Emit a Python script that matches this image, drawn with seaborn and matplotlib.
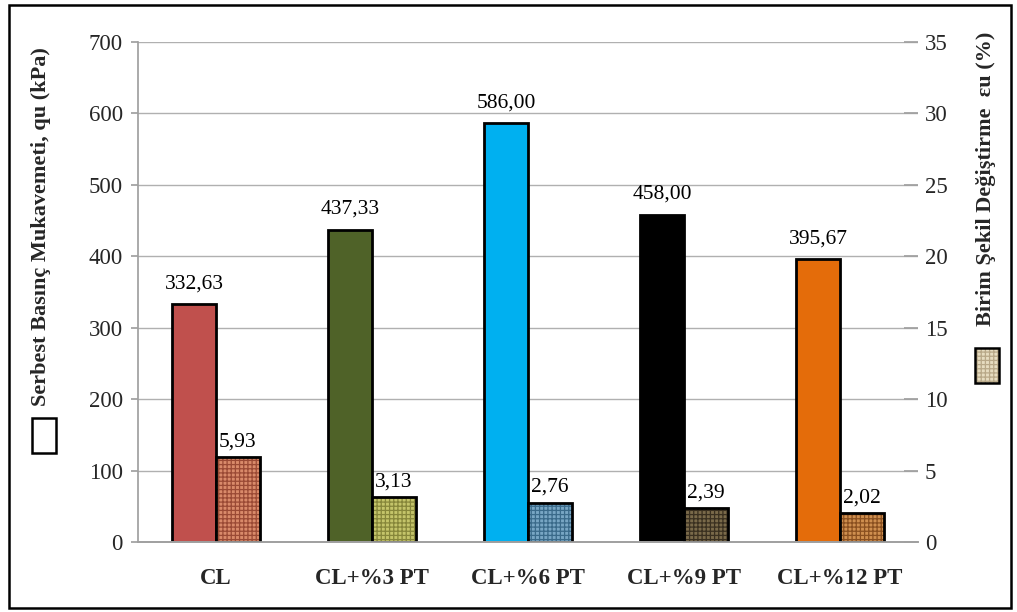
import numpy as np
import pandas as pd
import matplotlib
matplotlib.use("Agg")
import matplotlib.pyplot as plt
from matplotlib.patches import Rectangle
from matplotlib.colors import to_rgba
import seaborn as sns

categories = ["CL", "CL+%3 PT", "CL+%6 PT", "CL+%9 PT", "CL+%12 PT"]
qu_values = [332.63, 437.33, 586.00, 458.00, 395.67]
eu_values = [5.93, 3.13, 2.76, 2.39, 2.02]
qu_colors = ["#c0504d", "#4f6228", "#00b0f0", "#000000", "#e46c0a"]
eu_fill = ["#d98a6a", "#c4c46a", "#78a6c4", "#7a6a4a", "#cf8f4f"]
eu_hatch = ["#9a4a35", "#86863a", "#3a6a8a", "#3a3020", "#8a5020"]
left_ticks = [0, 100, 200, 300, 400, 500, 600, 700]
right_ticks = [0, 5, 10, 15, 20, 25, 30, 35]

sns.set_theme(style="white")
plt.rcParams["font.family"] = ["Liberation Serif", "DejaVu Serif"]
plt.rcParams["hatch.linewidth"] = 0.9

fig = plt.figure(figsize=(10.17, 6.12), dpi=100)
ax1 = fig.add_axes([0.1357, 0.1144, 0.767, 0.817])
ax2 = ax1.twinx()

df_qu = pd.DataFrame({"cat": categories, "val": qu_values, "series": "qu"})
df_eu = pd.DataFrame({"cat": categories, "val": eu_values, "series": "eu"})

sns.barplot(data=df_qu, x="cat", y="val", hue="series", hue_order=["qu", "eu"],
            order=categories, width=0.56, dodge=True, ax=ax1, legend=False,
            saturation=1, err_kws={"linewidth": 0})
sns.barplot(data=df_eu, x="cat", y="val", hue="series", hue_order=["qu", "eu"],
            order=categories, width=0.56, dodge=True, ax=ax2, legend=False,
            saturation=1, err_kws={"linewidth": 0})

qu_bars = [p for c in ax1.containers for p in c]
eu_bars = [p for c in ax2.containers for p in c]

for p, col in zip(qu_bars, qu_colors):
    p.set_facecolor(col)
    p.set_edgecolor("black")
    p.set_linewidth(2)

for p, col, hc in zip(eu_bars, eu_fill, eu_hatch):
    p.set_facecolor(col)
    p.set_edgecolor("black")
    p.set_linewidth(2)
    p.set_hatch("++++")
    if hasattr(p, "set_hatchcolor"):
        p.set_hatchcolor(hc)
    else:
        p._hatch_color = to_rgba(hc)

ax1.bar_label(ax1.containers[0], labels=[f"{v:.2f}".replace(".", ",") for v in qu_values],
              padding=8, fontsize=15.5, color="black")
ax2.bar_label(ax2.containers[-1], labels=[f"{v:.2f}".replace(".", ",") for v in eu_values],
              padding=4, fontsize=15.5, color="black")

ax1.set_ylim(0, 700)
ax1.set_yticks(left_ticks)
ax2.set_ylim(0, 35)
ax2.set_yticks(right_ticks)

ax1.set_xlabel("")
ax1.set_ylabel("")
ax2.set_xlabel("")
ax2.set_ylabel("")

ax1.grid(axis="y", color="#b0b0b0", linewidth=1)
ax1.set_axisbelow(True)
ax2.grid(False)

for ax in (ax1, ax2):
    ax.spines["top"].set_visible(False)
    ax.spines["right"].set_visible(False)
    ax.spines["left"].set_visible(False)
    ax.spines["bottom"].set_color("#a0a0a0")
ax1.spines["left"].set_visible(True)
ax1.spines["left"].set_color("#a0a0a0")

ax1.tick_params(axis="y", left=True, length=5, color="#a0a0a0", labelsize=16.5, pad=6)
ax2.tick_params(axis="y", right=True, length=10, color="#a0a0a0", labelsize=16.5, pad=5,
                direction="in")
ax1.tick_params(axis="x", bottom=False, labelsize=16.5, pad=13)
for lbl in ax1.get_xticklabels():
    lbl.set_fontweight("bold")

fig.text(0.040, 0.630, "Serbest Basınç Mukavemeti, qu (kPa)", rotation=90,
         ha="center", va="center", fontsize=16, fontweight="bold")
fig.add_artist(Rectangle((0.031, 0.259), 0.024, 0.058, transform=fig.transFigure,
                         facecolor="white", edgecolor="black", linewidth=1.8))

fig.text(0.970, 0.708, "Birim Şekil Değiştirme  εu (%)", rotation=90,
         ha="center", va="center", fontsize=16, fontweight="bold")
leg2 = Rectangle((0.959, 0.374), 0.023, 0.058, transform=fig.transFigure,
                 facecolor="#e6dcc0", edgecolor="black", linewidth=1.8, hatch="++++")
if hasattr(leg2, "set_hatchcolor"):
    leg2.set_hatchcolor("#b8a888")
else:
    leg2._hatch_color = to_rgba("#b8a888")
fig.add_artist(leg2)

fig.add_artist(Rectangle((0.009, 0.007), 0.985, 0.985, transform=fig.transFigure,
                         facecolor="none", edgecolor="black", linewidth=1.8))

fig.savefig("out.png", dpi=100)
